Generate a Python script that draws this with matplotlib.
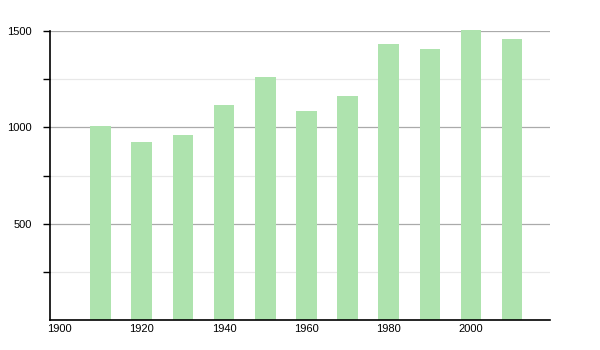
import numpy as np
from matplotlib import pyplot as plt

# Population by census year
years = [1910, 1920, 1930, 1940, 1950, 1960, 1970, 1980, 1990, 2000, 2010]
population = [1005, 922, 958, 1114, 1262, 1085, 1161, 1430, 1407, 1503, 1457]

major_ticks = [500, 1000, 1500]
minor_ticks = [250, 750, 1250]
x_ticks = [1900, 1920, 1940, 1960, 1980, 2000]

plt.rcParams['font.family'] = ['Liberation Sans', 'DejaVu Sans']

fig = plt.figure(figsize=(6, 3.5), dpi=100)
ax = fig.add_axes([50/600, 30/350, 500/600, 289/350])

# gridlines
for v in major_ticks:
    ax.axhline(v, color='#aaaaaa', linewidth=0.9, zorder=0)
for v in minor_ticks:
    ax.axhline(v, color='#e8e8e8', linewidth=0.9, zorder=0)

bars = ax.bar(years, population, width=5, color='#aee3ae', zorder=2)
for b in bars:
    b.set_clip_on(False)

ax.set_xlim(1897.7, 2019.2)
ax.set_ylim(0, 1500)

ax.set_yticks(major_ticks)
ax.set_yticks(minor_ticks, minor=True)
ax.set_xticks(x_ticks)
ax.tick_params(axis='y', which='both', length=5, width=1, labelsize=8, pad=8, color='black')
ax.tick_params(axis='x', length=0, labelsize=8, pad=3)

for s in ['top', 'right']:
    ax.spines[s].set_visible(False)
ax.spines['left'].set_linewidth(1.2)
ax.spines['bottom'].set_linewidth(1.2)

plt.savefig('out.png', dpi=100)
